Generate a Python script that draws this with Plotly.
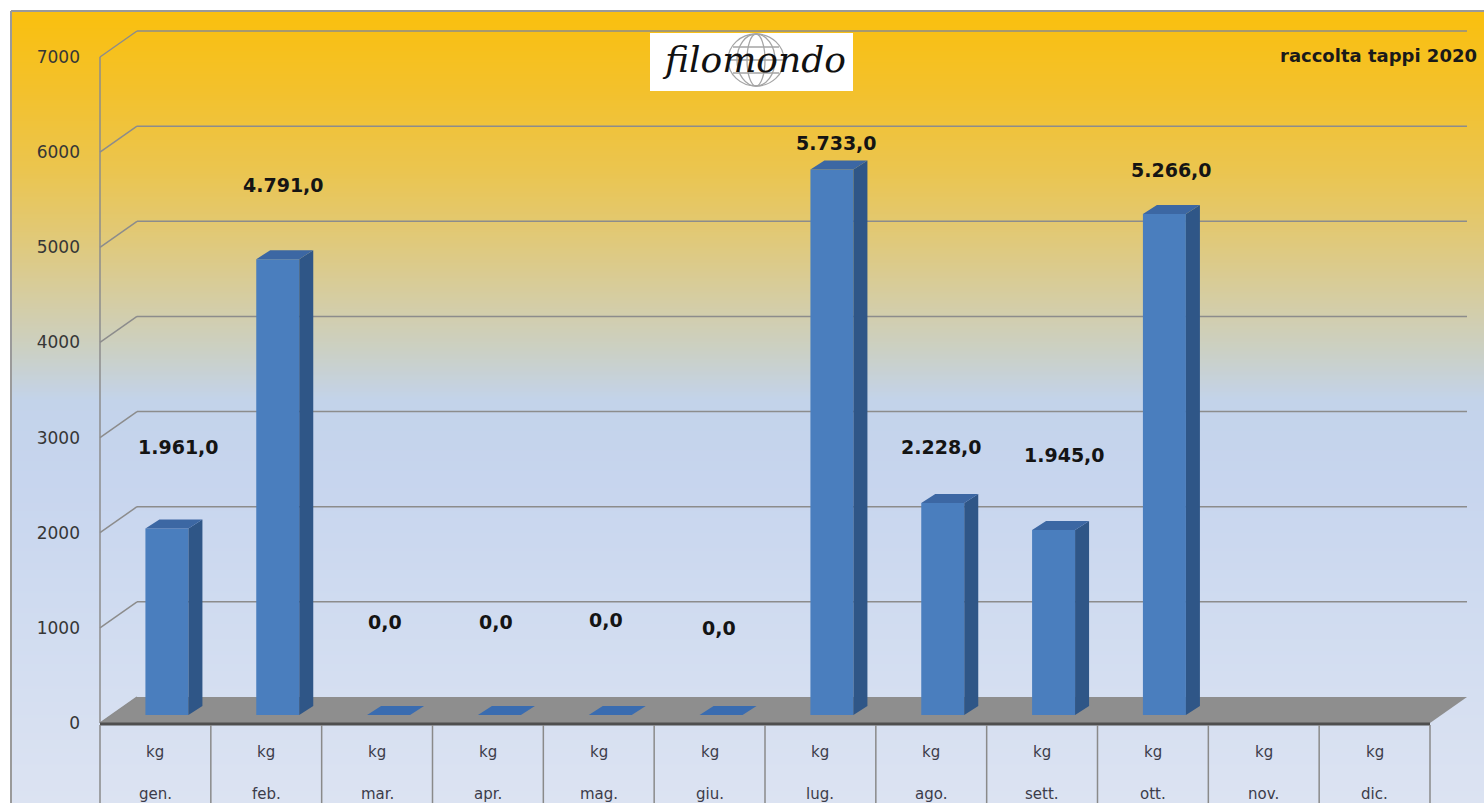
import base64
import struct
import zlib
import plotly.graph_objects as go

# ---------------- data ----------------
months = ["gen.", "feb.", "mar.", "apr.", "mag.", "giu.", "lug.", "ago.", "sett.", "ott.", "nov.", "dic."]
unit_labels = ["kg"] * 12
kg_values = [1961, 4791, 0, 0, 0, 0, 5733, 2228, 1945, 5266, None, None]
value_labels = ["1.961,0", "4.791,0", "0,0", "0,0", "0,0", "0,0", "5.733,0", "2.228,0", "1.945,0", "5.266,0", "", ""]
y_ticks = [0, 1000, 2000, 3000, 4000, 5000, 6000, 7000]
chart_title = "raccolta tappi 2020"
logo_text = "filomondo"

# label placement (axis units for height, pixels for horizontal nudge)
label_y = [2900, 5655, 1062, 1062, 1083, 998, 6096, 2901, 2817, 5812, None, None]
label_dx_px = [23, 17, 8, 8, 7, 9, 16, 10, 22, 19, 0, 0]

# ---------------- geometry ----------------
W, H = 1484, 803
X0_PX = 100.0            # left edge of first category box
CAT_W = 1330.0 / 12      # px per category
Y0_PX = 723.0            # pixel row of value 0 (front plane)
Y_PER = 666.0 / 7000.0   # px per unit
DEPTH_DX, DEPTH_DY = 37.0, 26.0
BAR_OFF_PX, BAR_W_PX = -10.0, 43.0
BAR_DX, BAR_DY = 14.0, 9.0
BASE = 8.0 / Y_PER       # bars stand a little behind the front edge

def px_x(px):
    return px / W

def px_y(py):
    return 1 - py / H

def xdata(px):
    return (px - X0_PX) / CAT_W - 0.5

def ydata(py):
    return (Y0_PX - py) / Y_PER

# ---------------- gradient background (generated PNG) ----------------
stops = [(11, (250, 192, 14)), (90, (243, 193, 44)), (170, (235, 197, 79)), (240, (224, 201, 122)),
         (300, (213, 205, 163)), (350, (203, 208, 196)), (400, (195, 211, 234)), (480, (199, 213, 238)),
         (600, (207, 219, 240)), (803, (220, 227, 242))]

def color_at(py):
    for (a, ca), (b, cb) in zip(stops[:-1], stops[1:]):
        if a <= py <= b:
            t = (py - a) / (b - a)
            return tuple(int(round(ca[k] + (cb[k] - ca[k]) * t)) for k in range(3))
    return stops[-1][1]

def make_png(rows):
    raw = b"".join(b"\x00" + bytes(c) * 2 for c in rows)
    def chunk(tag, data):
        return struct.pack(">I", len(data)) + tag + data + struct.pack(">I", zlib.crc32(tag + data) & 0xffffffff)
    ihdr = struct.pack(">IIBBBBB", 2, len(rows), 8, 2, 0, 0, 0)
    return b"\x89PNG\r\n\x1a\n" + chunk(b"IHDR", ihdr) + chunk(b"IDAT", zlib.compress(raw)) + chunk(b"IEND", b"")

grad_rows = [color_at(py) for py in range(11, H)]
grad_uri = "data:image/png;base64," + base64.b64encode(make_png(grad_rows)).decode()

fig = go.Figure()

# ---------------- bars ----------------
xs = list(range(len(months)))
fig.add_trace(go.Bar(
    x=xs, y=kg_values, base=BASE,
    offset=BAR_OFF_PX / CAT_W, width=BAR_W_PX / CAT_W,
    marker=dict(color="#4A7EBE", line=dict(width=0)),
    hoverinfo="skip", showlegend=False,
))

dxu, dyu = BAR_DX / CAT_W, BAR_DY / Y_PER
side_x, side_y, top_x, top_y, flat_x, flat_y = [], [], [], [], [], []
for i, v in enumerate(kg_values):
    if v is None:
        continue
    L = i + BAR_OFF_PX / CAT_W
    R = L + BAR_W_PX / CAT_W
    bot, top = BASE, BASE + v
    if v > 0:
        side_x += [R, R + dxu, R + dxu, R, None]
        side_y += [bot, bot + dyu, top + dyu, top, None]
        top_x += [L, R, R + dxu, L + dxu, None]
        top_y += [top, top, top + dyu, top + dyu, None]
    else:
        flat_x += [L, R, R + dxu, L + dxu, None]
        flat_y += [top, top, top + dyu, top + dyu, None]

fig.add_trace(go.Scatter(x=side_x, y=side_y, mode="lines", fill="toself", fillcolor="#2F5687",
                         line=dict(width=0, color="#2F5687"), hoverinfo="skip", showlegend=False))
fig.add_trace(go.Scatter(x=top_x, y=top_y, mode="lines", fill="toself", fillcolor="#3C67A3",
                         line=dict(width=0, color="#3C67A3"), hoverinfo="skip", showlegend=False))
fig.add_trace(go.Scatter(x=flat_x, y=flat_y, mode="lines", fill="toself", fillcolor="#3A6CB0",
                         line=dict(width=0, color="#3A6CB0"), hoverinfo="skip", showlegend=False))

# ---------------- decorations ----------------
shapes = []
grid_col = "#8C8C8C"
# floor
shapes.append(dict(type="path", xref="paper", yref="paper", layer="below",
                   path=f"M {px_x(X0_PX)},{px_y(Y0_PX)} L {px_x(X0_PX + 12 * CAT_W)},{px_y(Y0_PX)} "
                        f"L {px_x(X0_PX + 12 * CAT_W + DEPTH_DX)},{px_y(Y0_PX - DEPTH_DY)} "
                        f"L {px_x(X0_PX + DEPTH_DX)},{px_y(Y0_PX - DEPTH_DY)} Z",
                   fillcolor="#8E8E8E", line=dict(width=0)))
# gridlines (front tick -> back wall)
for v in y_ticks:
    fy = Y0_PX - v * Y_PER
    shapes.append(dict(type="line", xref="paper", yref="paper", layer="below",
                       x0=px_x(X0_PX), y0=px_y(fy), x1=px_x(X0_PX + DEPTH_DX), y1=px_y(fy - DEPTH_DY),
                       line=dict(color=grid_col, width=1.5)))
    if v > 0:
        shapes.append(dict(type="line", xref="paper", yref="paper", layer="below",
                           x0=px_x(X0_PX + DEPTH_DX), y0=px_y(fy - DEPTH_DY),
                           x1=px_x(X0_PX + 12 * CAT_W + DEPTH_DX), y1=px_y(fy - DEPTH_DY),
                           line=dict(color=grid_col, width=1.5)))
# vertical axis line
shapes.append(dict(type="line", xref="paper", yref="paper", layer="below",
                   x0=px_x(X0_PX), y0=px_y(Y0_PX), x1=px_x(X0_PX), y1=px_y(Y0_PX - 7000 * Y_PER),
                   line=dict(color=grid_col, width=1.5)))
# front edge of floor
shapes.append(dict(type="line", xref="paper", yref="paper", layer="below",
                   x0=px_x(X0_PX), y0=px_y(Y0_PX + 1), x1=px_x(X0_PX + 12 * CAT_W), y1=px_y(Y0_PX + 1),
                   line=dict(color="#4F4F4F", width=3)))
# category table separators
for k in range(13):
    xp = X0_PX + k * CAT_W
    shapes.append(dict(type="line", xref="paper", yref="paper", layer="below",
                       x0=px_x(xp), y0=px_y(Y0_PX + 2), x1=px_x(xp), y1=px_y(H + 5),
                       line=dict(color="#8A8A8A", width=1.5)))
# outer frame
shapes.append(dict(type="line", xref="paper", yref="paper", layer="below",
                   x0=px_x(11), y0=px_y(11), x1=px_x(W + 5), y1=px_y(11),
                   line=dict(color="#9A9A9A", width=2)))
shapes.append(dict(type="line", xref="paper", yref="paper", layer="below",
                   x0=px_x(11), y0=px_y(11), x1=px_x(11), y1=px_y(H + 5),
                   line=dict(color="#9A9A9A", width=2)))
# logo box and globe
shapes.append(dict(type="rect", xref="paper", yref="paper", layer="above",
                   x0=px_x(650), y0=px_y(33), x1=px_x(853), y1=px_y(91),
                   fillcolor="white", line=dict(width=0)))
gcx, gcy, grx, gry = 756, 60, 28, 26
globe_line = dict(color="#A5A5A5", width=1.3)
shapes.append(dict(type="circle", xref="paper", yref="paper", layer="above",
                   x0=px_x(gcx - grx), x1=px_x(gcx + grx), y0=px_y(gcy - gry), y1=px_y(gcy + gry),
                   line=globe_line))
for mx in (9, 19):
    shapes.append(dict(type="circle", xref="paper", yref="paper", layer="above",
                       x0=px_x(gcx - mx), x1=px_x(gcx + mx), y0=px_y(gcy - gry), y1=px_y(gcy + gry),
                       line=globe_line))
for dy, hw in ((0, grx), (-13, 23), (13, 23)):
    shapes.append(dict(type="line", xref="paper", yref="paper", layer="above",
                       x0=px_x(gcx - hw), x1=px_x(gcx + hw), y0=px_y(gcy + dy), y1=px_y(gcy + dy),
                       line=globe_line))

# ---------------- annotations ----------------
ann = []
for i, (txt, ly, dx) in enumerate(zip(value_labels, label_y, label_dx_px)):
    if not txt or ly is None:
        continue
    ann.append(dict(x=i + dx / CAT_W, y=ly, xref="x", yref="y", text=f"<b>{txt}</b>", showarrow=False,
                    xanchor="center", yanchor="middle",
                    font=dict(family="DejaVu Sans", size=19, color="#141414")))
for i, (u, m) in enumerate(zip(unit_labels, months)):
    ann.append(dict(x=i, y=px_y(752), xref="x", yref="paper", text=u, showarrow=False,
                    xanchor="center", yanchor="middle",
                    font=dict(family="DejaVu Sans", size=15, color="#3C3C4A")))
    ann.append(dict(x=i, y=px_y(794), xref="x", yref="paper", text=m, showarrow=False,
                    xanchor="center", yanchor="middle",
                    font=dict(family="DejaVu Sans", size=15, color="#3C3C4A")))
ann.append(dict(x=px_x(1479), y=px_y(55), xref="paper", yref="paper", xanchor="right", yanchor="middle",
                text=f"<b>{chart_title}</b>", showarrow=False,
                font=dict(family="DejaVu Sans", size=18, color="#1A1A1A")))
ann.append(dict(x=px_x(754), y=px_y(60), xref="paper", yref="paper", xanchor="center", yanchor="middle",
                text=logo_text, showarrow=False,
                font=dict(family="DejaVu Serif", size=36, color="#111111", style="italic")))

fig.update_layout(
    width=W, height=H, autosize=False,
    margin=dict(l=0, r=0, t=0, b=0, pad=0),
    paper_bgcolor="white", plot_bgcolor="rgba(0,0,0,0)",
    showlegend=False,
    shapes=shapes, annotations=ann,
    images=[dict(source=grad_uri, xref="paper", yref="paper", x=px_x(11), y=px_y(11),
                 sizex=(W - 11) / W, sizey=(H - 11) / H, sizing="stretch",
                 xanchor="left", yanchor="top", layer="below")],
    xaxis=dict(domain=[0, 1], range=[xdata(0), xdata(W)], visible=False, fixedrange=True),
    yaxis=dict(domain=[0, 1], range=[ydata(H), ydata(0)], anchor="free", position=px_x(X0_PX),
               tickvals=y_ticks, ticktext=[str(t) for t in y_ticks], ticks="",
               ticklabelstandoff=20, showgrid=False, zeroline=False, showline=False,
               tickfont=dict(family="DejaVu Sans", size=17, color="#363636"), fixedrange=True),
)

fig.write_html("out.html", config={"displayModeBar": False},
               post_script="document.body.style.margin='0px';document.body.style.overflow='hidden';")
